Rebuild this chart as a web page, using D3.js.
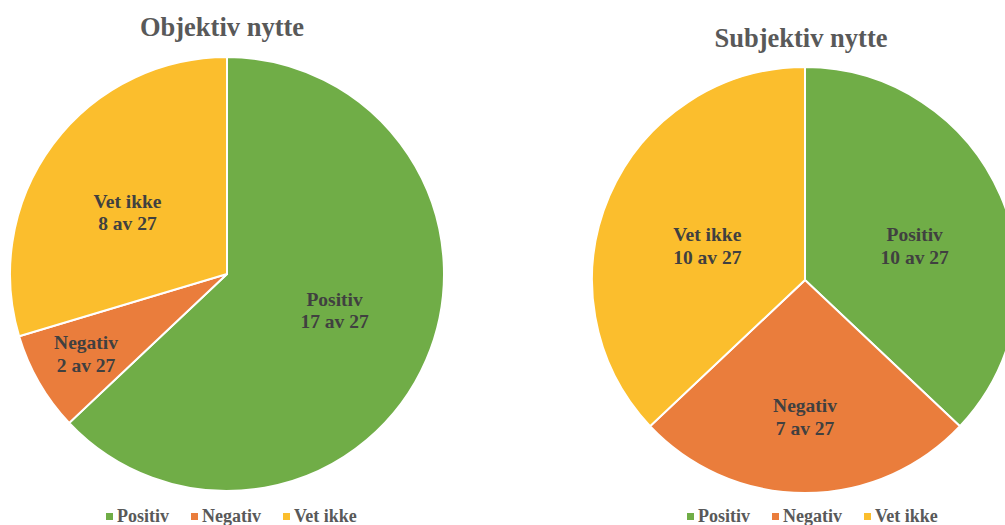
<!DOCTYPE html>
<html lang="no">
<head>
    <meta charset="utf-8" />
    <style>
        body {margin:0; background:#fff;}
        text {font-family: "Liberation Serif", "DejaVu Serif", serif; font-weight: bold;}
    </style>
    <script src="https://d3js.org/d3.v7.min.js"></script>
</head>
<body>
    <svg></svg>
</body>
<script>
    var width = 1005,
        height = 525;

    // data
    var categories = ["Positiv", "Negativ", "Vet ikke"];
    var total = 27;
    var objektivValues = [17, 2, 8];
    var subjektivValues = [10, 7, 10];
    var titles = ["Objektiv nytte", "Subjektiv nytte"];

    var colors = ["#70AD47", "#EA7D3C", "#FBBE2D"];

    // layout; nudge = small pixel shifts of the data labels, like excel's placement
    var charts = [
        {title: titles[0], values: objektivValues, cx: 227, cy: 274, r: 217, titleX: 222, titleY: 36, legendX: 105,
         nudge: [[4, -9], [0, -2], [-9, 5]]},
        {title: titles[1], values: subjektivValues, cx: 805, cy: 280, r: 213, titleX: 801, titleY: 47, legendX: 686,
         nudge: [[8, 9], [0, 0], [4, 9]]}
    ];

    var svg = d3.select("svg")
        .attr("width", width)
        .attr("height", height)

    var pie = d3.pie().sort(null).value(function(d) {return d.value});

    charts.forEach(function(c) {
        var data = categories.map(function(name, i) {return {name: name, value: c.values[i], i: i}});
        var arcs = pie(data);
        var arc = d3.arc().innerRadius(0).outerRadius(c.r);

        var g = svg.append("g").attr("transform", "translate(" + c.cx + "," + c.cy + ")");

        g.selectAll("path")
            .data(arcs)
          .enter().append("path")
            .attr("d", arc)
            .attr("fill", function(d) {return colors[d.data.i]})
            .attr("stroke", "#fff")
            .attr("stroke-width", 2)

        // small slices get their label pushed outward
        function labelPos(d) {
            var share = d.data.value / total;
            var k = share < 0.1 ? 0.75 : share < 0.28 ? 0.64 : 0.52;
            var a = (d.startAngle + d.endAngle) / 2;
            var n = c.nudge[d.data.i];
            return [Math.sin(a) * c.r * k + n[0], -Math.cos(a) * c.r * k + n[1]];
        }

        var labels = g.selectAll("text.lbl")
            .data(arcs)
          .enter().append("text")
            .attr("class", "lbl")
            .attr("text-anchor", "middle")
            .attr("fill", "#404040")
            .style("font-size", "19.5px")
            .attr("transform", function(d) {var p = labelPos(d); return "translate(" + p[0] + "," + p[1] + ")"})

        labels.append("tspan").attr("x", 0).attr("y", -4).text(function(d) {return d.data.name})
        labels.append("tspan").attr("x", 0).attr("y", 18.5).text(function(d) {return d.data.value + " av " + total})

        svg.append("text")
            .attr("x", c.titleX)
            .attr("y", c.titleY)
            .attr("text-anchor", "middle")
            .attr("fill", "#595959")
            .style("font-size", "26.5px")
            .text(c.title)

        var legendOffsets = [0, 85, 177];
        var lg = svg.append("g").selectAll("g")
            .data(categories)
          .enter().append("g")
            .attr("transform", function(d, i) {return "translate(" + (c.legendX + legendOffsets[i]) + ",0)"})

        lg.append("rect")
            .attr("x", 1).attr("y", 513)
            .attr("width", 7).attr("height", 7)
            .attr("fill", function(d, i) {return colors[i]})

        lg.append("text")
            .attr("x", 12).attr("y", 522)
            .attr("fill", "#595959")
            .style("font-size", "18px")
            .text(function(d) {return d})
    });
</script>
</html>
